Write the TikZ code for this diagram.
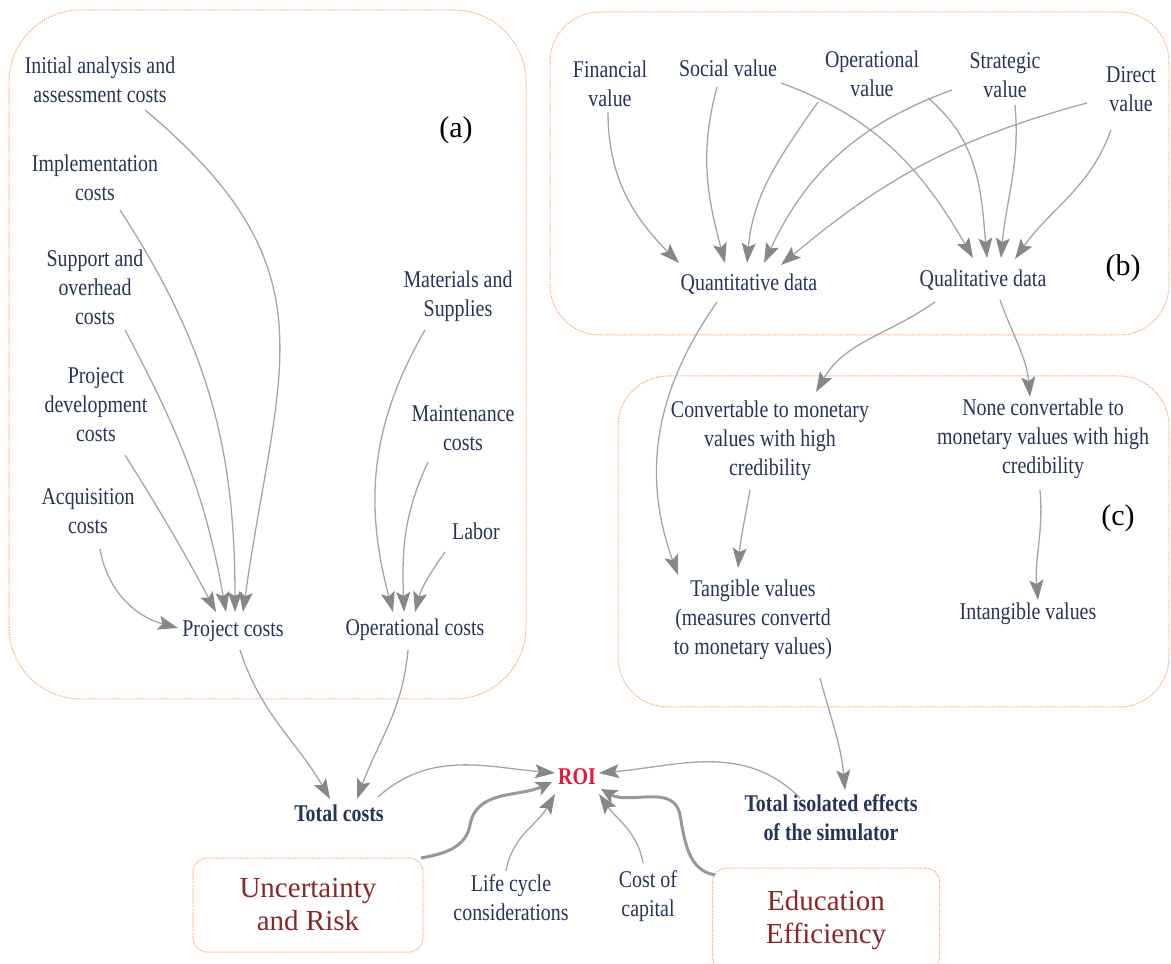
\documentclass[tikz,border=0pt]{standalone}
\usepackage{fontspec}
\setmainfont{Liberation Serif}
\newfontfamily\narrowserif[FakeStretch=0.83]{Liberation Serif}
\usetikzlibrary{arrows.meta,calc}

\definecolor{labelblue}{RGB}{38,52,88}
\definecolor{framec}{RGB}{244,164,110}
\definecolor{linec}{RGB}{165,165,165}
\definecolor{headc}{RGB}{135,135,135}
\definecolor{roired}{RGB}{225,25,60}
\definecolor{riskred}{RGB}{140,38,40}

\begin{document}
\begin{tikzpicture}[x=0.5pt,y=0.5pt,
  lbl/.style={font=\narrowserif\fontsize{12}{14.5}\selectfont, text=labelblue, align=center, inner sep=1pt},
  boldlbl/.style={font=\narrowserif\bfseries\fontsize{12}{14.5}\selectfont, text=labelblue, align=center, inner sep=1pt},
  roilbl/.style={font=\narrowserif\bfseries\fontsize{12}{14.5}\selectfont, text=roired, inner sep=1pt},
  panel/.style={font=\fontsize{15}{18}\selectfont, inner sep=0pt},
  frame/.style={draw=framec, line width=0.5pt, dash pattern=on 0.6pt off 0.6pt},
  factor/.style={frame, rounded corners=7pt, align=center, text=riskred,
    font=\fontsize{14.5}{16.5}\selectfont},
  arr/.style={draw=linec, line width=0.65pt,
    -{Stealth[length=10pt,width=7pt,inset=2pt,color=headc]}},
  thickarr/.style={draw=linec!92!black, line width=1.5pt,
    -{Stealth[length=8pt,width=7.5pt,inset=2pt,color=headc]}},
]
\useasboundingbox (0,0) rectangle (1171,963);

% group frames
\draw[frame, rounded corners=36pt] (9,264) rectangle (526,953);
\draw[frame, rounded corners=25pt] (550,628) rectangle (1169,951);
\draw[frame, rounded corners=25pt] (618,256) rectangle (1169,587);

% panel letters
\node[panel] (pa) at (456,833) {(a)};
\node[panel] (pb) at (1123,695) {(b)};
\node[panel] (pcl) at (1118,445) {(c)};

% (a) cost drivers
\node[lbl] (init) at (100,883) {Initial analysis and\\assessment costs};
\node[lbl] (impl) at (95,785) {Implementation\\costs};
\node[lbl] (supp) at (95,676) {Support and\\overhead\\costs};
\node[lbl] (pdev) at (96,558) {Project\\development\\costs};
\node[lbl] (acq) at (88,452) {Acquisition\\costs};
\node[lbl] (pc) at (233,332) {Project costs};
\node[lbl] (mat) at (458,667) {Materials and\\Supplies};
\node[lbl] (maint) at (463,535) {Maintenance\\costs};
\node[lbl] (labor) at (476,432) {Labor};
\node[lbl] (oc) at (415,333) {Operational costs};

% (b) value sources
\node[lbl] (fin) at (610,879) {Financial\\value};
\node[lbl] (soc) at (728,895) {Social value};
\node[lbl] (opv) at (872,889) {Operational\\value};
\node[lbl] (strv) at (1005,888) {Strategic\\value};
\node[lbl] (dirv) at (1131,874) {Direct\\value};
\node[lbl] (quant) at (749,679) {Quantitative data};
\node[lbl] (qual) at (983,683) {Qualitative data};

% (c) conversion
\node[lbl] (conv) at (770,522) {Convertable to monetary\\values with high\\credibility};
\node[lbl] (nonc) at (1043,524) {None convertable to\\monetary values with high\\credibility};
\node[lbl] (tang) at (753,343) {Tangible values\\(measures convertd\\to monetary values)};
\node[lbl] (intang) at (1028,349) {Intangible values};

% bottom row
\node[boldlbl] (tc) at (339,150) {Total costs};
\node[roilbl] (roi) at (577,186) {ROI};
\node[boldlbl] (tie) at (831,145) {Total isolated effects\\of the simulator};
\node[lbl] (life) at (511,65) {Life cycle\\considerations};
\node[lbl] (coc) at (648,67) {Cost of\\capital};
\node[factor, minimum width=115pt, minimum height=47pt] (unc) at (308,58) {Uncertainty\\and Risk};
\node[factor, minimum width=113.5pt, minimum height=52pt] (edu) at (826,43) {Education\\Efficiency};

% (a) connectors
\draw[arr] ($(init)+(45,-30)$) to[out=-40,in=82,out distance=125pt,in distance=125pt] ($(pc)+(10,19)$);
\draw[arr] ($(impl)+(25,-32)$) to[out=-57,in=90] ($(pc)+(2,19)$);
\draw[arr] ($(supp)+(30,-43)$) to[out=-62,in=100] ($(pc)+(-7,19)$);
\draw[arr] ($(pdev)+(29,-50)$) to[out=-58,in=118] ($(pc)+(-17,19)$);
\draw[arr] ($(acq)+(12,-38)$) to[out=-80,in=165] ($(pc)+(-55,3)$);
\draw[arr] ($(mat)+(-33,-34)$) to[out=-120,in=105] ($(oc)+(-22,18)$);
\draw[arr] ($(maint)+(-35,-34)$) to[out=-115,in=92] ($(oc)+(-11,18)$);
\draw[arr] ($(labor)+(-31,-21)$) to[out=-125,in=75] ($(oc)+(0,18)$);
\draw[arr] ($(pc)+(7,-19)$) to[out=-72,in=120] ($(tc)+(-9,14)$);
\draw[arr] ($(oc)+(-7,-20)$) to[out=-95,in=70] ($(tc)+(18,14)$);

% (b) connectors
\draw[arr] ($(fin)+(-2,-28)$) to[out=-90,in=135] ($(quant)+(-70,21)$);
\draw[arr] ($(soc)+(-11,-19)$) to[out=-105,in=105] ($(quant)+(-24,21)$);
\draw[arr] ($(opv)+(-54,-28)$) to[out=-125,in=85] ($(quant)+(-2,21)$);
\draw[arr] ($(strv)+(-53,-15)$) to[out=200,in=65] ($(quant)+(15,21)$);
\draw[arr] ($(dirv)+(-44,-14)$) to[out=195,in=40] ($(quant)+(32,19)$);
\draw[arr] ($(soc)+(53,-15)$) to[out=-20,in=120] ($(qual)+(-10,22)$);
\draw[arr] ($(opv)+(56,-24)$) to[out=-40,in=95] ($(qual)+(4,22)$);
\draw[arr] ($(strv)+(10,-30)$) to[out=-85,in=85] ($(qual)+(18,22)$);
\draw[arr] ($(dirv)+(-20,-41)$) to[out=-110,in=55] ($(qual)+(32,21)$);

% (c) connectors
\draw[arr] ($(quant)+(-32,-18)$) to[out=-125,in=110] ($(tang)+(-75,45)$);
\draw[arr] ($(qual)+(-48,-22)$) to[out=-145,in=60] ($(conv)+(46,49)$);
\draw[arr] ($(qual)+(17,-20)$) to[out=-70,in=95] ($(nonc)+(-13,42)$);
\draw[arr] ($(conv)+(-20,-49)$) to[out=-100,in=85] ($(tang)+(-15,52)$);
\draw[arr] ($(nonc)+(-3,-51)$) to[out=-85,in=95] ($(intang)+(10,14)$);
\draw[arr] ($(tang)+(67,-58)$) to[out=-75,in=95] ($(tie)+(14,28)$);

% ROI connectors
\draw[arr] ($(tc)+(39,16)$) to[out=42,in=175] ($(roi)+(-22,4)$);
\draw[arr] ($(tie)+(-31,20)$) to[out=135,in=5] ($(roi)+(22,4)$);
\draw[arr] ($(life)+(-5,27)$) to[out=80,in=-120] ($(roi)+(-22,-17)$);
\draw[arr] ($(coc)+(-5,33)$) to[out=100,in=-55] ($(roi)+(22,-17)$);
\draw[thickarr] ($(unc)+(113,47)$) to[out=10,in=-100] ($(unc)+(162,80)$)
  to[out=80,in=-155] ($(roi)+(-25,-5)$);
\draw[thickarr] ($(edu)+(-111,45)$) to[out=170,in=-80] ($(edu)+(-146,105)$)
  to[out=100,in=-30] ($(roi)+(24,-12)$);
\end{tikzpicture}
\end{document}
